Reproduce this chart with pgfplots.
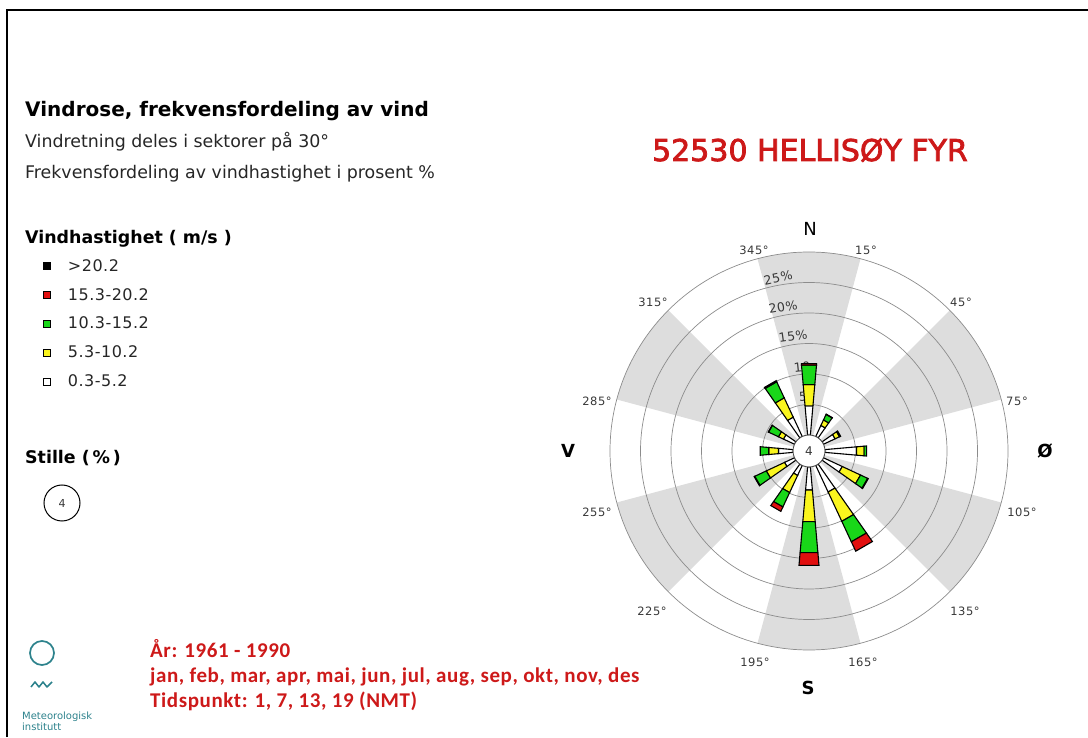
\documentclass[border=0pt]{standalone}
\usepackage{pgfplots}
\pgfplotsset{compat=1.18}
\usepackage{pgfplotstable}
\usepackage{fontspec}
\setmainfont{DejaVu Sans}
\newfontfamily\legfont{DejaVu Sans}[LetterSpace=3]
\newfontfamily\lblfont{DejaVu Sans}[LetterSpace=5]
\newfontfamily\redfont{Carlito}[LetterSpace=2.8]
\newfontfamily\titlefont{DejaVu Sans}[FakeBold=2.5]
\definecolor{windY}{RGB}{250,245,30}
\definecolor{windG}{RGB}{25,215,25}
\definecolor{windR}{RGB}{225,15,15}
\definecolor{sectgray}{RGB}{221,221,221}
\definecolor{ringgray}{RGB}{140,140,140}
\definecolor{metred}{RGB}{205,25,25}
\definecolor{metteal}{RGB}{45,130,140}
\definecolor{lblgray}{RGB}{55,55,55}

% wind rose: direction (deg from north), share (%) per speed class
\pgfplotstableread{
dir w    y    g    r
0   4.8  3.5  3.2  0.25
30  2.0  1.0  1.0  0.05
60  2.1  0.8  0.2  0.0
90  5.2  1.25 0.4  0.0
120 3.4  3.3  1.3  0.1
150 4.8  5.3  3.7  1.7
180 3.8  5.2  5.1  2.1
210 1.8  3.1  2.6  0.8
240 1.8  3.3  2.1  0.1
270 2.4  1.6  1.4  0.0
300 2.0  0.9  1.8  0.05
330 3.5  3.5  2.9  0.2
}\rosedata

\def\roff{2.623}% radius of the calm circle in percent units

% #1 direction, #2 from, #3 to, #4 colour
\newcommand\roseseg[4]{%
 \ifdim #2pt<#3pt\relax
  \pgfmathsetmacro\aL{90-#1+5}%
  \pgfmathsetmacro\aR{90-#1-5}%
  \pgfmathsetmacro\rA{#2+\roff}%
  \pgfmathsetmacro\rB{#3+\roff}%
  \pgfmathsetmacro\xa{\rA*cos(\aL)}\pgfmathsetmacro\ya{\rA*sin(\aL)}%
  \pgfmathsetmacro\xb{\rB*cos(\aL)}\pgfmathsetmacro\yb{\rB*sin(\aL)}%
  \pgfmathsetmacro\xc{\rB*cos(\aR)}\pgfmathsetmacro\yc{\rB*sin(\aR)}%
  \pgfmathsetmacro\xd{\rA*cos(\aR)}\pgfmathsetmacro\yd{\rA*sin(\aR)}%
  \edef\tmp{\noexpand\addplot[forget plot, fill=#4, draw=black, line width=1.1pt, line join=miter] coordinates {(\xa,\ya) (\xb,\yb) (\xc,\yc) (\xd,\yd)} -- cycle;}%
  \tmp
 \fi}

\begin{document}
\begin{tikzpicture}[x=1pt,y=1pt]
\path[use as bounding box] (0,0) rectangle (1088,737);
\draw[line width=2pt] (7,0) -- (7,727) -- (1088,727);

% header texts
\node[anchor=base west, inner sep=0, font=\bfseries\fontsize{20}{24}\selectfont] at (25,620) {Vindrose, frekvensfordeling av vind};
\node[anchor=base west, inner sep=0, font=\fontsize{17.4}{21}\selectfont, text=black!85] at (25,589) {Vindretning deles i sektorer på 30°};
\node[anchor=base west, inner sep=0, font=\fontsize{17.4}{21}\selectfont, text=black!85] at (25,558) {Frekvensfordeling av vindhastighet i prosent \%};
\node[anchor=base west, inner sep=0, font=\bfseries\fontsize{17.4}{21}\selectfont] at (25,493.7) {Vindhastighet ( m/s )};
\node[anchor=base west, inner sep=0, font=\bfseries\fontsize{17.4}{21}\selectfont] at (25,273.7) {Stille (\,\%\,)};
\draw[line width=1pt] (62,234) circle[radius=18pt];
\node[font=\fontsize{11}{13}\selectfont, text=lblgray] at (62,234) {4};

% station title
\node[anchor=base, inner sep=0, font=\titlefont\fontsize{30}{34}\selectfont, text=metred] at (810,576) {52530 HELLISØY FYR};

% red period text
\node[anchor=base west, inner sep=0, font=\redfont\bfseries\fontsize{21}{24}\selectfont, text=metred] at (150,79) {År: 1961 - 1990};
\node[anchor=base west, inner sep=0, font=\redfont\bfseries\fontsize{21}{24}\selectfont, text=metred] at (150,54) {jan, feb, mar, apr, mai, jun, jul, aug, sep, okt, nov, des};
\node[anchor=base west, inner sep=0, font=\redfont\bfseries\fontsize{21}{24}\selectfont, text=metred] at (150,30) {Tidspunkt: 1, 7, 13, 19 (NMT)};

% logo
\draw[metteal, line width=1.7pt] (42,84) circle[radius=12pt];
\draw[metteal, line width=1.5pt, line join=round] (31,50) -- (35,55) -- (39,50) -- (43,55) -- (47,50) -- (52,55);
\node[anchor=base west, inner sep=0, font=\fontsize{10}{12}\selectfont, text=metteal] at (22,17) {Meteorologisk};
\node[anchor=base west, inner sep=0, font=\fontsize{10}{12}\selectfont, text=metteal] at (22,6) {institutt};

% rose background: grey sectors and rings
\foreach \k in {0,60,...,300}{
  \pgfmathsetmacro\tA{90-\k-15}
  \fill[sectgray] (809,286) -- ++(\tA:199pt) arc[start angle=\tA, end angle=\tA+30, radius=199pt] -- cycle;
}
\foreach \r in {46.5,77,107.5,138,168.5,199}
  \draw[ringgray, line width=0.7pt] (809,286) circle[radius=\r pt];

% ring labels
\begin{scope}[font=\lblfont\fontsize{12.5}{14}\selectfont, text=lblgray]
\node[rotate=12] at (778,459) {25\%};
\node[rotate=10] at (783,430) {20\%};
\node[rotate=8] at (793,401) {15\%};
\node[rotate=6] at (802,370) {10};
\node[rotate=4] at (803,340) {5};
\end{scope}
% sector boundary labels
\begin{scope}[font=\lblfont\fontsize{11.5}{13}\selectfont, text=lblgray]
\node at (754,487) {345°};
\node at (866,487) {15°};
\node at (961,435) {45°};
\node at (1017,336) {75°};
\node at (1022,225) {105°};
\node at (965,126) {135°};
\node at (863,75) {165°};
\node at (755,75) {195°};
\node at (652,126) {225°};
\node at (597,225) {255°};
\node at (597,336) {285°};
\node at (653,435) {315°};
\end{scope}

% compass letters
\node[font=\fontsize{18}{20}\selectfont] at (810,508) {N};
\node[font=\bfseries\fontsize{18}{20}\selectfont] at (808,49) {S};
\node[font=\bfseries\fontsize{18}{20}\selectfont] at (568,286) {V};
\node[font=\bfseries\fontsize{18}{20}\selectfont] at (1045,286) {Ø};

\begin{axis}[at={(809pt,286pt)}, anchor=center, scale only axis,
  width=398pt, height=398pt,
  xmin=-32.623, xmax=32.623, ymin=-32.623, ymax=32.623,
  hide axis, clip=false,
  legend image code/.code={\draw[#1,draw=black,line width=0.8pt] (0pt,-3.5pt) rectangle (7pt,3.5pt);},
  legend style={at={(axis description cs:-1.4246,0.982)}, anchor=north west,
    draw=none, fill=none, inner sep=0pt, row sep=15.5pt, /tikz/column sep=17pt,
    nodes={inner sep=0pt}, cells={anchor=west},
    font=\legfont\fontsize{16}{19}\selectfont, text=black!85},
]
\addlegendimage{fill=black}\addlegendentry{>20.2}
\addlegendimage{fill=windR}\addlegendentry{15.3-20.2}
\addlegendimage{fill=windG}\addlegendentry{10.3-15.2}
\addlegendimage{fill=windY}\addlegendentry{5.3-10.2}
\addlegendimage{fill=white}\addlegendentry{0.3-5.2}
\pgfplotsforeachungrouped \i in {0,...,11}{%
  \pgfplotstablegetelem{\i}{dir}\of\rosedata\let\rdir\pgfplotsretval
  \pgfplotstablegetelem{\i}{w}\of\rosedata\let\vw\pgfplotsretval
  \pgfplotstablegetelem{\i}{y}\of\rosedata\let\vy\pgfplotsretval
  \pgfplotstablegetelem{\i}{g}\of\rosedata\let\vg\pgfplotsretval
  \pgfplotstablegetelem{\i}{r}\of\rosedata\let\vr\pgfplotsretval
  \pgfmathsetmacro\cumW{\vw}%
  \pgfmathsetmacro\cumY{\cumW+\vy}%
  \pgfmathsetmacro\cumG{\cumY+\vg}%
  \pgfmathsetmacro\cumR{\cumG+\vr}%
  \roseseg{\rdir}{0}{\cumW}{white}%
  \roseseg{\rdir}{\cumW}{\cumY}{windY}%
  \roseseg{\rdir}{\cumY}{\cumG}{windG}%
  \roseseg{\rdir}{\cumG}{\cumR}{windR}%
}
\end{axis}

% calm circle
\draw[fill=white, draw=black!70, line width=0.9pt] (809,286) circle[radius=16pt];
\node[font=\fontsize{12}{14}\selectfont, text=lblgray] at (809,286) {4};
\end{tikzpicture}
\end{document}
